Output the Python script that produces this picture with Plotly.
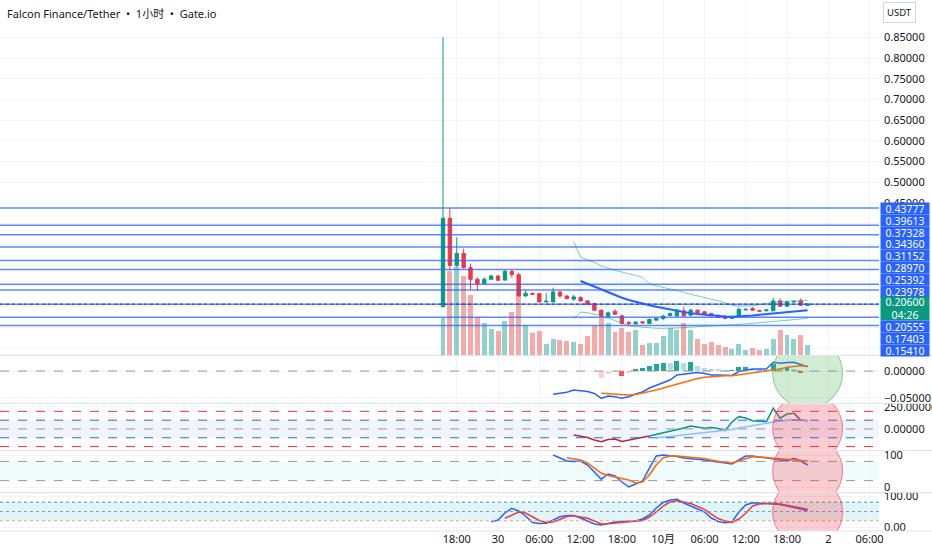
import pandas as pd
import plotly.graph_objects as go


# ---------------------------------------------------
# 1. DATA (1h bars)
# ---------------------------------------------------

dates = pd.date_range("2025-09-29 16:00", periods=54, freq="h")

open_ = [0.2000, 0.4132, 0.2995, 0.3284, 0.2940, 0.2659, 0.2555, 0.2659, 0.2738, 0.2640,
         0.2851, 0.2771, 0.2257, 0.2322, 0.2316, 0.2113, 0.2113, 0.2354, 0.2257, 0.2180,
         0.2219, 0.2137, 0.2075, 0.1913, 0.1769, 0.1889, 0.1777, 0.1613, 0.1585, 0.1632,
         0.1594, 0.1673, 0.1714, 0.1786, 0.1776, 0.1897, 0.1793, 0.1913, 0.1873, 0.1834,
         0.1793, 0.1769, 0.1714, 0.1769, 0.1920, 0.1954, 0.1905, 0.1900, 0.1897, 0.2137,
         0.2010, 0.2110, 0.2137, 0.2030]
high = [0.8500, 0.4378, 0.3675, 0.3397, 0.3036, 0.2714, 0.2700, 0.2771, 0.2750, 0.2890,
        0.2880, 0.2820, 0.2394, 0.2330, 0.2330, 0.2322, 0.2459, 0.2370, 0.2270, 0.2280,
        0.2250, 0.2150, 0.2090, 0.1930, 0.1880, 0.1937, 0.1800, 0.1656, 0.1650, 0.1650,
        0.1710, 0.1730, 0.1802, 0.1850, 0.1950, 0.1993, 0.1950, 0.1930, 0.1890, 0.1850,
        0.1800, 0.1780, 0.1760, 0.1980, 0.1950, 0.1990, 0.1920, 0.1930, 0.2210, 0.2200,
        0.2140, 0.2140, 0.2200, 0.2080]
low = [0.1980, 0.2875, 0.2954, 0.2920, 0.2411, 0.2378, 0.2540, 0.2636, 0.2620, 0.2630,
       0.2700, 0.2245, 0.2240, 0.2290, 0.2100, 0.2105, 0.2110, 0.2210, 0.2180, 0.2140,
       0.2120, 0.2040, 0.1900, 0.1750, 0.1740, 0.1800, 0.1570, 0.1553, 0.1570, 0.1590,
       0.1580, 0.1660, 0.1673, 0.1770, 0.1760, 0.1760, 0.1780, 0.1830, 0.1800, 0.1760,
       0.1720, 0.1700, 0.1700, 0.1750, 0.1910, 0.1900, 0.1880, 0.1890, 0.1890, 0.1990,
       0.1990, 0.2100, 0.2020, 0.2020]
close = [0.4132, 0.2995, 0.3284, 0.2940, 0.2659, 0.2555, 0.2659, 0.2738, 0.2635, 0.2851,
         0.2771, 0.2257, 0.2322, 0.2300, 0.2113, 0.2130, 0.2354, 0.2257, 0.2195, 0.2233,
         0.2137, 0.2050, 0.1913, 0.1769, 0.1849, 0.1817, 0.1594, 0.1594, 0.1625, 0.1608,
         0.1690, 0.1714, 0.1769, 0.1834, 0.1913, 0.1776, 0.1913, 0.1848, 0.1817, 0.1776,
         0.1738, 0.1714, 0.1752, 0.1930, 0.1935, 0.1913, 0.1890, 0.1920, 0.2137, 0.2010,
         0.2113, 0.2125, 0.2034, 0.2060]
volume_k = [37, 84, 88, 79, 60, 38, 32, 26, 24, 34, 43, 72, 30, 22, 24, 11, 16, 15,
            14, 13, 11, 19, 29, 37, 32, 23, 27, 23, 25, 10, 12, 12, 19, 27, 25, 32, 25,
            16, 11, 13, 10, 8, 6, 11, 5, 7, 5, 6, 16, 25, 20, 16, 20, 10]

# Bollinger bands (start at bar index 19), basis from bar 20
bb_start = 19
bb_upper = [0.3572, 0.3195, 0.3127, 0.3067, 0.2983, 0.2923, 0.2875, 0.2834, 0.2803, 0.2755,
            0.2707, 0.2551, 0.2502, 0.2466, 0.2418, 0.2382, 0.2346, 0.2298, 0.2262, 0.2226,
            0.2195, 0.2142, 0.2094, 0.2034, 0.2014, 0.2010, 0.2022, 0.2046, 0.2082, 0.2106,
            0.2118, 0.2130, 0.2137, 0.2147, 0.2154]
bb_lower = [0.1697, 0.1865, 0.1853, 0.1817, 0.1781, 0.1721, 0.1661, 0.1589, 0.1541, 0.1517,
            0.1498, 0.1486, 0.1476, 0.1474, 0.1476, 0.1481, 0.1490, 0.1505, 0.1512, 0.1522,
            0.1529, 0.1539, 0.1548, 0.1558, 0.1570, 0.1582, 0.1596, 0.1608, 0.1625, 0.1644,
            0.1664, 0.1680, 0.1692, 0.1704, 0.1714]
basis_start = 20
bb_basis = [0.2618, 0.2550, 0.2478, 0.2406, 0.2334, 0.2274, 0.2214, 0.2161, 0.2113, 0.2070,
            0.2034, 0.1995, 0.1962, 0.1926, 0.1894, 0.1865, 0.1841, 0.1822, 0.1805, 0.1793,
            0.1779, 0.1764, 0.1755, 0.1762, 0.1774, 0.1786, 0.1805, 0.1822, 0.1837, 0.1851,
            0.1865, 0.1882, 0.1899, 0.1913]

# MACD
macd_start = 16
macd_line = [-0.0431, -0.0417, -0.0394, -0.0352, -0.0361, -0.0380, -0.0417, -0.0506, -0.0463, -0.0476,
             -0.0506, -0.0476, -0.0426, -0.0389, -0.0315, -0.0269, -0.0213, -0.0167, -0.0074, -0.0056,
             -0.0037, -0.0028, -0.0046, -0.0074, -0.0074, -0.0080, -0.0083, -0.0009, 0.0019, 0.0037,
             0.0037, 0.0037, 0.0161, 0.0143, 0.0157, 0.0161, 0.0120, 0.0080]
signal_start = 23
signal_line = [-0.0413, -0.0419, -0.0426, -0.0435, -0.0444, -0.0435, -0.0407, -0.0389, -0.0352, -0.0315,
               -0.0278, -0.0241, -0.0213, -0.0176, -0.0139, -0.0115, -0.0102, -0.0093, -0.0089, -0.0087,
               -0.0070, -0.0052, -0.0028, -0.0015, 0.0000, 0.0019, 0.0037, 0.0069, 0.0083, 0.0096,
               0.0093]
macd_hist = [-0.0124, -0.0056, -0.0009, -0.0087, -0.0043, 0.0019, 0.0050, 0.0098, 0.0124, 0.0143,
             0.0140, 0.0185, 0.0143, 0.0161, 0.0093, 0.0050, 0.0031, 0.0019, 0.0013, 0.0016,
             0.0069, 0.0080, 0.0037, 0.0019, 0.0006, 0.0124, 0.0060, 0.0065, 0.0037, -0.0024,
             -0.0013]

# CCI and its moving average
cci_start = 19
cci = [-68, -85, -97, -125, -144, -119, -114, -142, -125, -108, -91, -80, -62, -40, -23,
       -11, 11, 34, 17, 8, 17, 6, -19, 80, 140, 125, 94, 89, 83, 235, 122, 170, 178, 102, 94]
cci_ma_start = 31
cci_ma = [-102, -94, -86, -78, -70, -62, -54, -46, -38, -30, -22, -6, 10, 26, 40, 52,
          64, 80, 90, 98, 106, 104, 97]

# Stochastic
stoch_k_start = 16
stoch_k = [100, 90.6, 81.3, 79.7, 81.3, 68.8, 46.9, 24.1, 40.6, 34.4, 15.6, 0, 9.4, 18.8,
           59.4, 96.9, 100, 98.4, 95.3, 90.6, 89.1, 87.5, 84.4, 81.3, 78.1, 75, 71.9, 84.4,
           96.9, 96.9, 93.8, 89.7, 85.9, 82.8, 81.3, 89.7, 81.3, 68.8]
stoch_d_start = 18
stoch_d = [91.6, 87.5, 84.4, 75, 59.4, 43.8, 35.9, 31.3, 28.1, 21.9, 12.5, 15.6, 37.5, 68.8,
           90.6, 96.9, 96.9, 95.3, 93.8, 92.8, 89.1, 84.4, 79.7, 76.6, 75, 81.3, 89.1, 94.7,
           93.8, 92.2, 90.6, 89.7, 87.5, 85.9, 83.4, 81.3]

# Stochastic RSI
srsi_k_start = 7
srsi_k = [17.1, 22.6, 45.2, 60.3, 51.6, 35.5, 14.5, 11.3, 11.9, 22.6, 33.2, 37.1, 37.1, 29,
          19.4, 9.7, 6.5, 11.3, 16.1, 17.7, 18.4, 19.4, 25.8, 38.7, 61.3, 79, 87.1, 89.4,
          77.4, 67.7, 59.7, 48.4, 29, 17.7, 13.9, 16.1, 48.4, 71, 78.4, 77.4, 74.2, 74.2,
          72.6, 67.7, 63.5, 58.1, 52.6]
srsi_d_start = 9
srsi_d = [28.1, 38.7, 48.4, 45.2, 32.3, 21, 14.5, 16.1, 24.2, 33.9, 36.5, 32.3, 28.1, 19.4,
          9.7, 10.3, 12.9, 13.9, 16.1, 18.4, 21, 32.3, 48.4, 67.7, 80.6, 84.8, 80.6, 75.8,
          66.1, 57.1, 41.9, 27.4, 19.4, 14.5, 25.8, 44.2, 67.7, 74.2, 75.8, 76.5, 74.2, 69.4,
          65.5, 61.3, 57.1]

# horizontal price levels drawn on the chart
levels = [0.43777, 0.39613, 0.37328, 0.34360, 0.31152, 0.28970, 0.25392, 0.23978,
          0.20555, 0.17403, 0.15410]
last_price = 0.20600
countdown = "04:26"

price_ticks = [0.45, 0.50, 0.55, 0.60, 0.65, 0.70, 0.75, 0.80, 0.85]
price_minor = [0.10, 0.15, 0.20, 0.25, 0.30, 0.35, 0.40]
time_ticks = pd.date_range("2025-09-29 18:00", "2025-10-02 06:00", freq="6h")
time_labels = ["18:00", "30", "06:00", "12:00", "18:00", "10月", "06:00", "12:00",
               "18:00", "2", "06:00"]


# ---------------------------------------------------
# 2. GEOMETRY / STYLE
# ---------------------------------------------------

W, H = 932, 550
MARGIN_R, MARGIN_B = 53, 19
PLOT_W = W - MARGIN_R
PLOT_H = H - MARGIN_B

PANES = {
    "main": (0, 355),
    "macd": (356, 403),
    "cci": (404, 450),
    "stoch": (451, 492),
    "srsi": (493, 531),
}

price_range = [0.0832, 0.9400]
vol_range = [0, 355]
macd_range = [-0.0593, 0.0278]
cci_range = [-239, 284]
stoch_range = [-15.6, 112.5]
srsi_range = [-12.9, 109.7]

FIRST_BAR_PX = 443
BAR_PX = 6.88
x_range = [dates[0] - pd.Timedelta(hours=FIRST_BAR_PX / BAR_PX),
           dates[0] + pd.Timedelta(hours=(PLOT_W - FIRST_BAR_PX) / BAR_PX)]
BAR_W = 0.72 * 3600 * 1000

UP, DOWN = "#089981", "#f23645"
BLUE = "#2962ff"
ORANGE = "#ff6d00"
GRID = "#f2f3f7"
TEXT = "#131722"
FONT = "Noto Sans, Noto Sans CJK SC, sans-serif"
LABEL_H = 11.8
CIRCLE_R = 35


def domain(name):
    top, bot = PANES[name]
    return [1 - bot / PLOT_H, 1 - top / PLOT_H]


def paper_y(px):
    return 1 - px / PLOT_H


# ---------------------------------------------------
# 3. TRACES
# ---------------------------------------------------

fig = go.Figure()

# volume (behind candles)
vol_colors = ["rgba(38,166,154,0.5)" if c >= o else "rgba(239,83,80,0.5)"
              for o, c in zip(open_, close)]
fig.add_trace(go.Bar(x=dates, y=volume_k, marker_color=vol_colors, marker_line_width=0,
                     width=BAR_W, xaxis="x", yaxis="y"))

# bollinger fill + bands
fig.add_trace(go.Scatter(x=dates[bb_start:], y=bb_lower, mode="lines",
                         line=dict(color="rgba(8,153,129,0.5)", width=1),
                         xaxis="x", yaxis="y6"))
fig.add_trace(go.Scatter(x=dates[bb_start:], y=bb_upper, mode="lines",
                         line=dict(color="rgba(8,153,129,0.5)", width=1),
                         fill="tonexty", fillcolor="rgba(33,150,243,0.04)",
                         xaxis="x", yaxis="y6"))
fig.add_trace(go.Scatter(x=dates[basis_start:], y=bb_basis, mode="lines",
                         line=dict(color=BLUE, width=2), xaxis="x", yaxis="y6"))

fig.add_trace(go.Candlestick(
    x=dates, open=open_, high=high, low=low, close=close,
    increasing=dict(line=dict(color=UP, width=1), fillcolor=UP),
    decreasing=dict(line=dict(color=DOWN, width=1), fillcolor=DOWN),
    whiskerwidth=0, xaxis="x", yaxis="y6",
))

# MACD
hist_colors = []
prev = None
for v in macd_hist:
    rising = prev is None or v > prev
    if v >= 0:
        hist_colors.append("#26a69a" if rising else "#b2dfdb")
    else:
        hist_colors.append("#ffcdd2" if rising else "#ff5252")
    prev = v
fig.add_trace(go.Bar(x=dates[signal_start:], y=macd_hist, marker_color=hist_colors,
                     marker_line_width=0, width=BAR_W, xaxis="x2", yaxis="y2"))
fig.add_trace(go.Scatter(x=dates[macd_start:], y=macd_line, mode="lines",
                         line=dict(color=BLUE, width=1.5), xaxis="x2", yaxis="y2"))
fig.add_trace(go.Scatter(x=dates[signal_start:], y=signal_line, mode="lines",
                         line=dict(color=ORANGE, width=1.5), xaxis="x2", yaxis="y2"))

# CCI, coloured by position against its average
cci_x = list(dates[cci_start:])
ma_by_x = dict(zip(dates[cci_ma_start:], cci_ma))
seg_colors = []
for i in range(1, len(cci)):
    ma = ma_by_x.get(cci_x[i])
    seg_colors.append(UP if ma is not None and cci[i] > ma else "#b22833")
start = 0
for i in range(1, len(seg_colors) + 1):
    if i == len(seg_colors) or seg_colors[i] != seg_colors[start]:
        fig.add_trace(go.Scatter(x=cci_x[start:i + 1], y=cci[start:i + 1], mode="lines",
                                 line=dict(color=seg_colors[start], width=1.5),
                                 xaxis="x3", yaxis="y3"))
        start = i
fig.add_trace(go.Scatter(x=dates[cci_ma_start:], y=cci_ma, mode="lines",
                         line=dict(color="#90bff9", width=1.5), xaxis="x3", yaxis="y3"))

# Stochastic
fig.add_trace(go.Scatter(x=dates[stoch_k_start:], y=stoch_k, mode="lines",
                         line=dict(color=BLUE, width=1.5), xaxis="x4", yaxis="y4"))
fig.add_trace(go.Scatter(x=dates[stoch_d_start:], y=stoch_d, mode="lines",
                         line=dict(color=ORANGE, width=1.5), fill="tonexty",
                         fillcolor="rgba(41,98,255,0.1)", xaxis="x4", yaxis="y4"))

# Stochastic RSI
fig.add_trace(go.Scatter(x=dates[srsi_k_start:], y=srsi_k, mode="lines",
                         line=dict(color=BLUE, width=1.5), xaxis="x5", yaxis="y5"))
fig.add_trace(go.Scatter(x=dates[srsi_d_start:], y=srsi_d, mode="lines",
                         line=dict(color=DOWN, width=1.5), xaxis="x5", yaxis="y5"))


# ---------------------------------------------------
# 4. SHAPES
# ---------------------------------------------------

shapes = []


def hline(axis, y, color, dash, width=1):
    shapes.append(dict(type="line", xref=f"x{axis} domain", x0=0, x1=1,
                       yref=f"y{axis}", y0=y, y1=y,
                       line=dict(color=color, width=width, dash=dash)))


def band(axis, y0, y1, color):
    shapes.append(dict(type="rect", xref=f"x{axis} domain", x0=0, x1=1, yref=f"y{axis}",
                       y0=y0, y1=y1, fillcolor=color, line_width=0, layer="below"))


# price levels
for lv in levels:
    shapes.append(dict(type="line", xref="x domain", x0=0, x1=1, yref="y6", y0=lv, y1=lv,
                       line=dict(color="rgba(41,98,255,0.75)", width=1.5)))
shapes.append(dict(type="line", xref="x domain", x0=0, x1=1, yref="y6",
                   y0=last_price, y1=last_price, line=dict(color="#1c3f9e", width=1, dash="dot")))

hline(2, 0, "#9598a1", "dash")
band(3, -100, 100, "rgba(41,98,255,0.07)")
hline(3, 200, "#f23645", "dash")
hline(3, -200, "#f23645", "dash")
hline(3, 100, BLUE, "dash")
hline(3, -100, BLUE, "dash")
hline(3, 0, "#9598a1", "dash")
band(4, 20, 80, "rgba(0,188,212,0.06)")
hline(4, 80, "#9598a1", "dash")
hline(4, 20, "#9598a1", "dash")
band(5, 20, 80, "rgba(0,172,193,0.12)")
hline(5, 80, "#26a69a", "dot")
hline(5, 50, "#9598a1", "dot")
hline(5, 20, "#f7a072", "dot")

# highlight circles on the last bar
last_x = str(dates[-1])
circles = [(2, -0.004, "rgba(76,175,80,0.25)", "rgba(76,175,80,0.6)"),
           (3, 10, "rgba(242,54,69,0.25)", "rgba(242,54,69,0.6)"),
           (4, 50, "rgba(242,54,69,0.25)", "rgba(242,54,69,0.6)"),
           (5, 48, "rgba(242,54,69,0.25)", "rgba(242,54,69,0.6)")]
for axis, yc, fill, edge in circles:
    shapes.append(dict(type="circle", xref=f"x{axis}", yref=f"y{axis}",
                       xsizemode="pixel", xanchor=last_x, x0=-CIRCLE_R, x1=CIRCLE_R,
                       ysizemode="pixel", yanchor=yc, y0=-CIRCLE_R, y1=CIRCLE_R,
                       fillcolor=fill, line=dict(color=edge, width=1)))

# pane separators
for px in [355.5, 403.5, 450.5, 492.5, 531]:
    shapes.append(dict(type="line", xref="paper", x0=0, x1=W / PLOT_W, yref="paper",
                       y0=paper_y(px), y1=paper_y(px), line=dict(color="#e0e3eb", width=1)))


# ---------------------------------------------------
# 5. PRICE LABELS (stacked like the price scale does)
# ---------------------------------------------------

main_top, main_bot = PANES["main"]
span = price_range[1] - price_range[0]


def price_to_px(p):
    return main_top + (price_range[1] - p) / span * (main_bot - main_top)


def px_to_price(y):
    return price_range[1] - (y - main_top) / (main_bot - main_top) * span


tags = [(lv, f"{lv:.5f}", BLUE, LABEL_H) for lv in levels]
tags.append((last_price, f"{last_price:.5f}<br>{countdown}", UP, 2 * LABEL_H))
tags.sort(key=lambda t: -t[0])

pos = []
for i, (p, _, _, h) in enumerate(tags):
    y = price_to_px(p)
    if i:
        y = max(y, pos[-1] + tags[i - 1][3] / 2 + h / 2)
    pos.append(y)
limit = main_bot + 1
for i in range(len(tags) - 1, -1, -1):
    h = tags[i][3]
    pos[i] = min(pos[i], limit - h / 2)
    limit = pos[i] - h / 2

annotations = []
for (p, text, color, h), y in zip(tags, pos):
    annotations.append(dict(x=1, xref="paper", xanchor="left", xshift=1,
                            y=px_to_price(y), yref="y6", yanchor="middle",
                            text=text, showarrow=False, bgcolor=color, width=48,
                            height=h - 0.8, borderpad=0,
                            font=dict(family=FONT, size=10.5, color="white")))

annotations.append(dict(x=(PLOT_W + 21) / PLOT_W, xref="paper", xanchor="center",
                        y=paper_y(12), yref="paper", yanchor="middle", text="USDT",
                        showarrow=False, bordercolor="#d1d4dc", borderwidth=1, borderpad=3,
                        font=dict(family=FONT, size=9.5, color=TEXT)))
annotations.append(dict(x=5 / PLOT_W, xref="paper", xanchor="left", y=paper_y(13),
                        yref="paper", yanchor="middle",
                        text="Falcon Finance/Tether  •  1小时  •  Gate.io", showarrow=False,
                        font=dict(family=FONT, size=11, color=TEXT)))


# ---------------------------------------------------
# 6. LAYOUT
# ---------------------------------------------------

tick_font = dict(family=FONT, size=11, color=TEXT)
xcommon = dict(type="date", range=x_range, tickvals=time_ticks, ticktext=time_labels,
               showgrid=True, gridcolor=GRID, zeroline=False, ticks="",
               tickfont=tick_font, automargin=False)
ycommon = dict(side="right", showgrid=True, gridcolor=GRID, zeroline=False, ticks="",
               tickfont=tick_font, ticklabelstandoff=4, fixedrange=True, automargin=False)

fig.update_layout(
    width=W, height=H,
    margin=dict(l=0, r=MARGIN_R, t=0, b=MARGIN_B),
    paper_bgcolor="white", plot_bgcolor="white",
    showlegend=False, bargap=0,
    shapes=shapes, annotations=annotations,
    xaxis=dict(xcommon, anchor="y", showticklabels=False, rangeslider=dict(visible=False)),
    xaxis2=dict(xcommon, anchor="y2", matches="x", showticklabels=False),
    xaxis3=dict(xcommon, anchor="y3", matches="x", showticklabels=False),
    xaxis4=dict(xcommon, anchor="y4", matches="x", showticklabels=False),
    xaxis5=dict(xcommon, anchor="y5", matches="x", showticklabels=True),
    yaxis=dict(domain=domain("main"), range=vol_range, visible=False, showgrid=False,
               anchor="x", automargin=False),
    yaxis6=dict(ycommon, overlaying="y", anchor="x", range=price_range,
                tickvals=price_ticks, tickformat=".5f",
                minor=dict(tickvals=price_minor, showgrid=True, gridcolor=GRID)),
    yaxis2=dict(ycommon, domain=domain("macd"), anchor="x2", range=macd_range,
                tickvals=[0, -0.05], tickformat=".5f"),
    yaxis3=dict(ycommon, domain=domain("cci"), anchor="x3", range=cci_range,
                tickvals=[250, 0], tickformat=".5f"),
    yaxis4=dict(ycommon, domain=domain("stoch"), anchor="x4", range=stoch_range,
                tickvals=[100, 0], tickformat="d"),
    yaxis5=dict(ycommon, domain=domain("srsi"), anchor="x5", range=srsi_range,
                tickvals=[100, 0], tickformat=".2f"),
)

# the page's default body margin would shift the figure by 8px
fig.write_html("out.html", config={"displayModeBar": False},
               post_script="document.body.style.margin = '0';")
